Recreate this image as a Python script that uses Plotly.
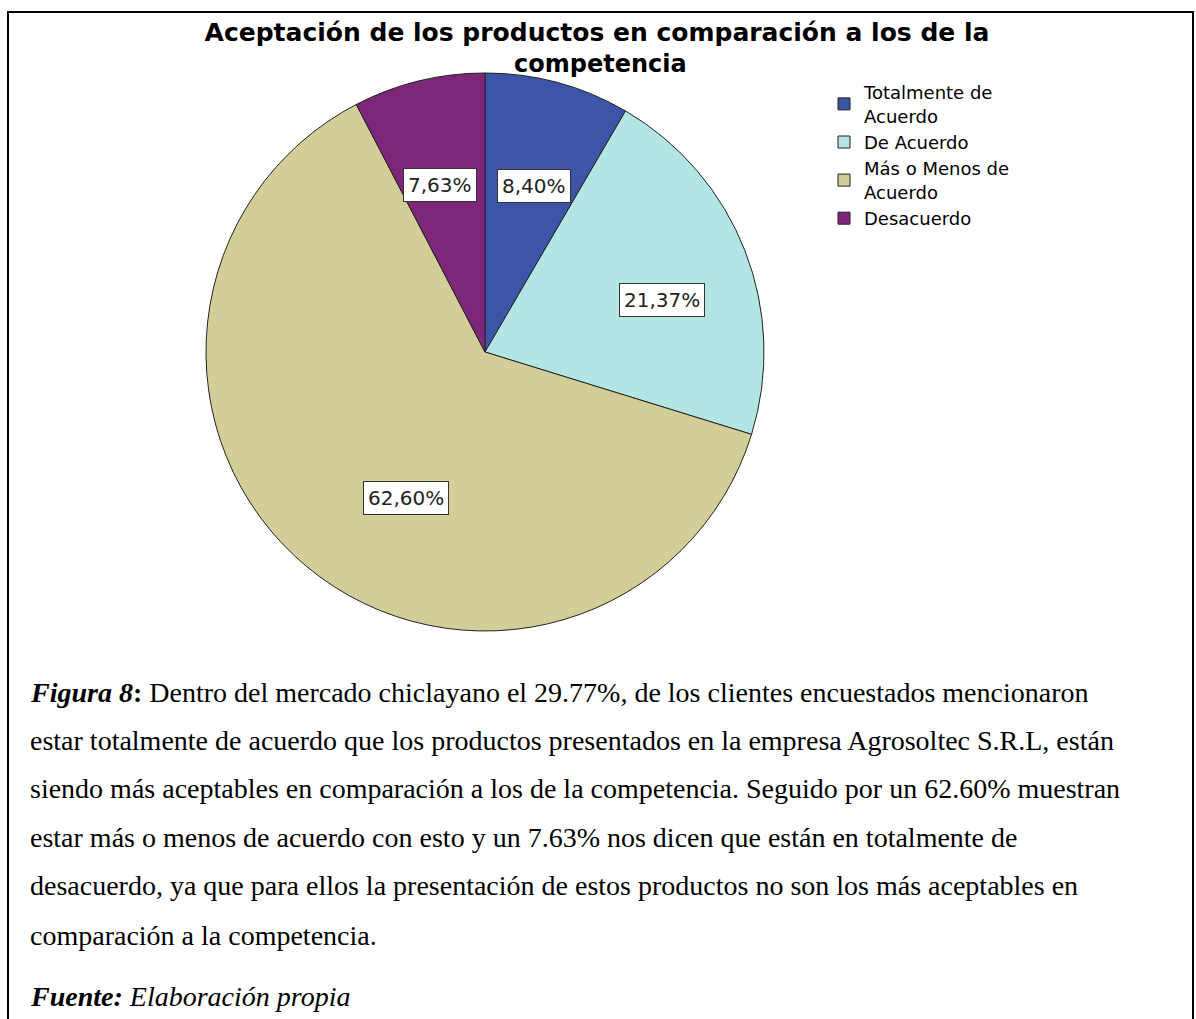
import math
import plotly.graph_objects as go

# ---------------- data ----------------
categories = ["Totalmente de<br>Acuerdo", "De Acuerdo", "Más o Menos de<br>Acuerdo", "Desacuerdo"]
percentages = [8.40, 21.37, 62.60, 7.63]
slice_colors = ["#3D55A8", "#B3E5E5", "#D3CE97", "#7E277A"]

title_line1 = "Aceptación de los productos en comparación a los de la"
title_line2 = "competencia"

caption_lines = [
    "<b><i>Figura 8</i>:</b> Dentro del mercado chiclayano el 29.77%, de los clientes encuestados mencionaron",
    "estar totalmente de acuerdo que los productos presentados en la empresa Agrosoltec S.R.L, están",
    "siendo más aceptables en comparación a los de la competencia. Seguido por un 62.60% muestran",
    "estar más o menos de acuerdo con esto y un 7.63% nos dicen que están en totalmente de",
    "desacuerdo, ya que para ellos la presentación de estos productos no son los más aceptables en",
    "comparación a la competencia.",
    "<b><i>Fuente:</i></b> <i>Elaboración propia</i>",
]

# ---------------- layout constants ----------------
W, H = 1196, 1019
CX, CY, R = 485, 352, 279          # pie centre / radius in pixels
LABEL_FRAC = 0.68                  # radial position of value labels

def px_x(x):
    return x / W

def px_y(y):
    return 1 - y / H

fig = go.Figure()
fig.add_trace(go.Pie(
    labels=categories,
    values=percentages,
    sort=False,
    direction="clockwise",
    rotation=0,
    marker=dict(colors=slice_colors, line=dict(color="#222222", width=1)),
    textinfo="none",
    hoverinfo="label+percent",
    domain=dict(x=[px_x(CX - R), px_x(CX + R)], y=[px_y(CY + R), px_y(CY - R)]),
))

annotations = []
# value labels (boxed), positioned from the slice mid-angles
total = sum(percentages)
cum = 0.0
for v in percentages:
    mid = (cum + v / 2) / total * 2 * math.pi
    cum += v
    lx = CX + LABEL_FRAC * R * math.sin(mid)
    ly = CY - LABEL_FRAC * R * math.cos(mid)
    annotations.append(dict(
        x=px_x(lx), y=px_y(ly), xref="paper", yref="paper",
        text=f"{v:.2f}".replace(".", ",") + "%",
        showarrow=False,
        font=dict(family="DejaVu Sans", size=20, color="#222222"),
        bgcolor="white", bordercolor="#333333", borderwidth=1, borderpad=4,
    ))

# second title line
annotations.append(dict(
    x=px_x(600), y=px_y(64), xref="paper", yref="paper",
    xanchor="center", yanchor="middle",
    text="<b>" + title_line2 + "</b>", showarrow=False,
    font=dict(family="DejaVu Sans", size=24, color="black"),
))

# caption lines
caption_y = [692, 740, 788, 837, 885, 935, 996]
for txt, yy in zip(caption_lines, caption_y):
    annotations.append(dict(
        x=px_x(28), y=px_y(yy), xref="paper", yref="paper",
        xanchor="left", yanchor="middle", align="left",
        text=txt, showarrow=False,
        font=dict(family="Liberation Serif", size=28, color="black"),
    ))

fig.update_layout(
    width=W, height=H,
    margin=dict(l=0, r=0, t=0, b=0),
    paper_bgcolor="white",
    plot_bgcolor="white",
    title=dict(
        text="<b>" + title_line1 + "</b>",
        x=px_x(597), xanchor="center",
        y=px_y(32), yanchor="middle",
        font=dict(family="DejaVu Sans", size=25, color="black"),
    ),
    legend=dict(
        x=px_x(824), y=px_y(74), xanchor="left", yanchor="top",
        font=dict(family="DejaVu Sans", size=18, color="black"),
        bgcolor="rgba(0,0,0,0)",
        tracegroupgap=0,
    ),
    annotations=annotations,
    shapes=[dict(
        type="rect", xref="paper", yref="paper",
        x0=px_x(8), x1=px_x(1193), y0=-0.02, y1=px_y(12),
        line=dict(color="black", width=2), fillcolor="rgba(0,0,0,0)",
    )],
)

fig.write_html(
    "out.html",
    config={"displayModeBar": False},
    post_script="document.body.style.margin='0';document.body.style.overflow='hidden';",
)
